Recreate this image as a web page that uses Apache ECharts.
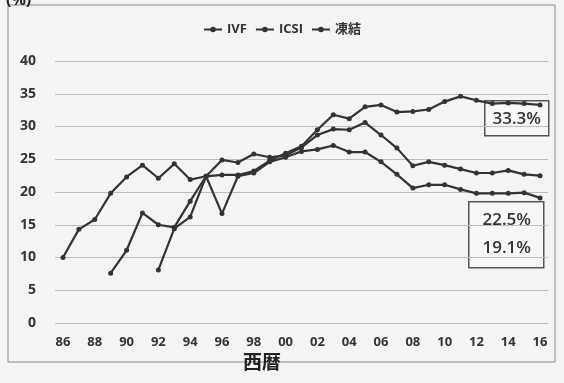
<!DOCTYPE html>
<html>
<head>
<meta charset="utf-8">
<script src="https://cdn.jsdelivr.net/npm/echarts@6/dist/echarts.min.js"></script>
<style>
  html, body { margin: 0; padding: 0; background: #f4f4f4; }
  #main { width: 564px; height: 383px; }
</style>
</head>
<body>
<div id="main"></div>
<script>
// 年 (西暦の下2桁)
var YEARS = ['86','87','88','89','90','91','92','93','94','95','96','97','98','99','00',
             '01','02','03','04','05','06','07','08','09','10','11','12','13','14','15','16'];
var SERIES_NAMES = ['IVF', 'ICSI', '凍結'];

// 妊娠率(%)
var IVF = [10.0, 14.3, 15.8, 19.8, 22.3, 24.1, 22.1, 24.3, 21.9, 22.4, 24.9, 24.5, 25.8, 25.3, 25.6,
           26.8, 28.7, 29.6, 29.5, 30.6, 28.7, 26.7, 24.0, 24.6, 24.1, 23.5, 22.9, 22.9, 23.3, 22.7, 22.5];
var ICSI = [null, null, null, null, null, null, 8.1, 14.4, 16.2, 22.4, 16.7, 22.4, 22.9, 24.6, 25.3,
            26.2, 26.5, 27.1, 26.1, 26.1, 24.6, 22.7, 20.6, 21.1, 21.1, 20.4, 19.8, 19.8, 19.8, 19.9, 19.1];
var FROZEN = [null, null, null, 7.6, 11.1, 16.8, 15.0, 14.6, 18.6, 22.4, 22.6, 22.6, 23.2, 24.8, 25.9,
              27.0, 29.5, 31.8, 31.2, 33.0, 33.3, 32.2, 32.3, 32.6, 33.8, 34.6, 34.0, 33.5, 33.6, 33.5, 33.3];

var BOX_TOP = ['33.3%'];
var BOX_BOTTOM = ['22.5%', '19.1%'];

var lineColor = '#333';
var fontMain = '"Open Sans", "Noto Sans CJK JP", sans-serif';

function makeSeries(name, data) {
    return {
        name: name,
        type: 'line',
        data: data,
        symbol: 'circle',
        symbolSize: 5,
        connectNulls: false,
        itemStyle: { color: lineColor },
        lineStyle: { color: lineColor, width: 2.2 }
    };
}

var chart = echarts.init(document.getElementById('main'));
chart.setOption({
    backgroundColor: '#f4f4f4',
    animation: false,
    textStyle: { fontFamily: fontMain },
    legend: {
        data: SERIES_NAMES,
        top: 18,
        left: 'center',
        itemWidth: 18,
        itemHeight: 7,
        itemGap: 8,
        textStyle: { fontSize: 13, fontWeight: 'bold', color: '#333', fontFamily: fontMain }
    },
    grid: {
        left: 55,
        right: 16,
        top: 61,
        bottom: 60
    },
    xAxis: {
        type: 'category',
        boundaryGap: true,
        data: YEARS,
        axisLine: { show: false },
        axisTick: { show: false },
        axisLabel: {
            interval: 1,
            margin: 13,
            fontSize: 13,
            fontWeight: 'bold',
            color: '#333'
        }
    },
    yAxis: {
        type: 'value',
        min: 0,
        max: 40,
        interval: 5,
        axisLine: { show: false },
        axisTick: { show: false },
        axisLabel: {
            margin: 19,
            fontSize: 14,
            fontWeight: 'bold',
            color: '#333'
        },
        splitLine: { lineStyle: { color: '#bdbdbd', width: 1 } }
    },
    series: [
        makeSeries(SERIES_NAMES[0], IVF),
        makeSeries(SERIES_NAMES[1], ICSI),
        makeSeries(SERIES_NAMES[2], FROZEN)
    ],
    graphic: [
        {
            type: 'rect',
            shape: { x: 8, y: 5, width: 547, height: 357 },
            style: { fill: null, stroke: '#8a8a8a', lineWidth: 1 },
            z: 0
        },
        {
            type: 'text',
            left: 6,
            top: -8,
            style: { text: '(%)', font: 'bold 16px ' + fontMain, fill: '#222' }
        },
        {
            type: 'text',
            left: 243,
            top: 352,
            style: { text: '西暦', font: 'bold 19px "Noto Sans CJK JP", sans-serif', fill: '#222' }
        },
        {
            type: 'group',
            left: 484,
            top: 100,
            children: [
                {
                    type: 'rect',
                    shape: { x: 0, y: 0, width: 64, height: 35 },
                    style: { fill: '#f7f7f7', stroke: '#555', lineWidth: 1.5 }
                },
                {
                    type: 'text',
                    x: 32, y: 18,
                    style: { text: BOX_TOP[0], font: '600 17px ' + fontMain, fill: '#333', align: 'center', verticalAlign: 'middle' }
                }
            ]
        },
        {
            type: 'group',
            left: 468,
            top: 201,
            children: [
                {
                    type: 'rect',
                    shape: { x: 0, y: 0, width: 75, height: 66 },
                    style: { fill: '#f7f7f7', stroke: '#555', lineWidth: 1.5 }
                },
                {
                    type: 'text',
                    x: 38, y: 18,
                    style: { text: BOX_BOTTOM[0], font: '600 17px ' + fontMain, fill: '#333', align: 'center', verticalAlign: 'middle' }
                },
                {
                    type: 'text',
                    x: 38, y: 46,
                    style: { text: BOX_BOTTOM[1], font: '600 17px ' + fontMain, fill: '#333', align: 'center', verticalAlign: 'middle' }
                }
            ]
        }
    ]
});
</script>
</body>
</html>
